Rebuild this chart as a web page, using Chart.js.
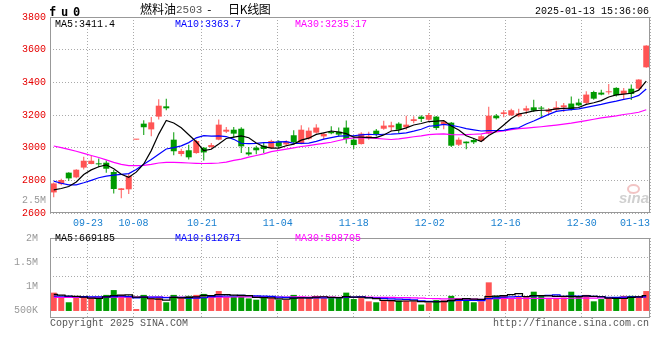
<!DOCTYPE html>
<html>
<head>
<meta charset="utf-8">
<title>燃料油2503 日K线图</title>
<script src="https://cdn.jsdelivr.net/npm/chart.js"></script>
<style>
  html, body { margin: 0; padding: 0; background: #fff; }
  #wrap { position: relative; width: 660px; height: 360px; overflow: hidden; background: #fff;
          font-family: "Liberation Mono", monospace; font-size: 10px; line-height: 10px; }
  #wrap canvas { position: absolute; left: 0; }
  .t { position: absolute; white-space: pre; }
  .cjk { font: 12px "Noto Sans CJK SC"; line-height: 12px; top: 3px; }
</style>
</head>
<body>
<div id="wrap">
  <canvas id="kline" width="660" height="228" style="top:0"></canvas>
  <canvas id="vol" width="660" height="132" style="top:228px"></canvas>

  <span class="t" style="left:49px;top:6px;font:bold 12px 'DejaVu Sans Mono';line-height:12px;letter-spacing:4.8px">fu0</span>
  <span class="t cjk" style="left:140px">燃料油</span>
  <span class="t" style="left:176px;top:5px;font:11px 'Liberation Mono';line-height:11px;color:#555">2503</span>
  <span class="t" style="left:206px;top:5px;font:11px 'Liberation Mono';line-height:11px">-</span>
  <span class="t cjk" style="left:228px;letter-spacing:-0.3px">日K线图</span>
  <span class="t" style="left:535px;top:7px">2025-01-13 15:36:06</span>

  <span class="t" style="left:55px;top:20px;color:#000">MA5:3411.4</span>
  <span class="t" style="left:175px;top:20px;color:#0000ff">MA10:3363.7</span>
  <span class="t" style="left:295px;top:20px;color:#ff00ff">MA30:3235.17</span>

  <span class="t" style="left:22px;top:196px;color:#999">2.5M</span>
  <span class="t" style="left:619px;top:190px;font:italic bold 15px 'Liberation Sans';line-height:15px;color:#d0d0d0">sina</span>
  <span class="t" style="left:627px;top:184px;width:9px;height:6px;border:2px solid #f2c4c4;border-radius:50%"></span>

  <span class="t" style="left:55px;top:234px;color:#000">MA5:669185</span>
  <span class="t" style="left:175px;top:234px;color:#0000ff">MA10:612671</span>
  <span class="t" style="left:295px;top:234px;color:#ff00ff">MA30:598705</span>

  <span class="t" style="left:50px;top:319px;color:#555">Copyright 2025 SINA.COM</span>
  <span class="t" style="left:493px;top:319px;color:#555">http://finance.sina.com.cn</span>
</div>

<script>
// trading days shown, 09-12 .. 01-13
var dates = ['09-12','09-13','09-18','09-19','09-20','09-23','09-24','09-25','09-26','09-27','09-30',
  '10-08','10-09','10-10','10-11','10-14','10-15','10-16','10-17','10-18','10-21','10-22','10-23','10-24','10-25',
  '10-28','10-29','10-30','10-31','11-01','11-04','11-05','11-06','11-07','11-08','11-11','11-12','11-13','11-14',
  '11-15','11-18','11-19','11-20','11-21','11-22','11-25','11-26','11-27','11-28','11-29','12-02','12-03','12-04',
  '12-05','12-06','12-09','12-10','12-11','12-12','12-13','12-16','12-17','12-18','12-19','12-20','12-23','12-24',
  '12-25','12-26','12-27','12-30','12-31','01-02','01-03','01-06','01-07','01-08','01-09','01-10','01-13'];
var tickDates = ['09-23','10-08','10-21','11-04','11-18','12-02','12-16','12-30','01-13'];

var open = [2726,2777,2847,2818,2878,2900,2903,2908,2851,2741,
  2745,3049,3147,3112,3190,3253,3049,2961,2984,2967,
  3000,3004,3049,3098,3110,3116,2971,3000,3012,2998,
  3037,3020,3076,3025,3055,3092,3069,3098,3098,3123,
  3049,3022,3066,3104,3116,3125,3147,3125,3163,3190,
  3171,3190,3143,3153,3018,3037,3047,3041,3086,3196,
  3206,3198,3192,3227,3247,3245,3219,3233,3247,3270,
  3276,3274,3341,3337,3339,3366,3329,3361,3361,3492];
var high = [2786,2810,2850,2868,2945,2949,2933,2922,2863,2753,
  2843,3052,3168,3188,3296,3300,3094,2994,3018,3049,
  3004,3029,3172,3127,3127,3125,3004,3012,3029,3049,
  3045,3045,3106,3137,3123,3143,3090,3131,3123,3167,
  3074,3094,3098,3114,3165,3159,3155,3196,3192,3198,
  3212,3194,3169,3157,3063,3038,3059,3080,3251,3206,
  3231,3239,3239,3257,3294,3255,3243,3284,3274,3314,
  3300,3345,3349,3355,3390,3370,3366,3386,3419,3627];
var low = [2696,2770,2798,2812,2867,2898,2880,2847,2720,2690,
  2716,3048,3078,3070,3172,3229,2953,2947,2927,2963,
  2922,2992,3045,3090,3059,2967,2951,2959,2967,2992,
  2996,3008,3020,3021,3049,3086,3049,3082,3069,3025,
  2992,3020,3049,3069,3110,3100,3086,3110,3149,3157,
  3165,3108,3112,3004,3010,2990,3022,3035,3080,3172,
  3186,3194,3186,3206,3219,3182,3206,3219,3219,3227,
  3253,3263,3294,3321,3325,3314,3294,3292,3355,3490];
var close = [2781,2802,2812,2865,2920,2920,2898,2871,2747,2751,
  2827,3052,3125,3155,3257,3241,2978,2980,2941,3041,
  2971,3016,3141,3110,3086,3008,2959,2984,2992,3041,
  3008,3037,3033,3110,3104,3123,3084,3088,3080,3053,
  3016,3086,3072,3082,3135,3137,3110,3141,3174,3176,
  3200,3120,3159,3012,3049,3027,3033,3070,3196,3180,
  3216,3229,3210,3241,3227,3239,3233,3247,3259,3233,
  3259,3325,3300,3325,3343,3321,3349,3329,3417,3625];

var ma5 = [2742,2750,2762,2790,2836,2864,2883,2895,2871,2837,
  2819,2850,2900,2982,3083,3166,3151,3122,3079,3036,
  2982,2990,3022,3056,3065,3072,3061,3029,3006,2997,
  2997,3012,3022,3046,3058,3081,3091,3102,3096,3086,
  3064,3065,3061,3062,3078,3102,3107,3121,3139,3148,
  3160,3162,3166,3133,3108,3073,3056,3038,3075,3101,
  3139,3178,3206,3215,3225,3229,3230,3237,3241,3242,
  3246,3265,3275,3288,3310,3323,3328,3333,3352,3408];
var ma10 = [2795,2782,2772,2772,2785,2800,2816,2826,2832,2837,
  2841,2866,2898,2927,2960,2992,3000,3011,3031,3060,
  3074,3071,3072,3068,3051,3027,3025,3026,3031,3031,
  3035,3037,3026,3026,3028,3039,3052,3062,3071,3072,
  3073,3078,3082,3079,3082,3083,3086,3091,3101,3113,
  3131,3135,3143,3136,3128,3117,3109,3102,3104,3105,
  3106,3117,3122,3145,3163,3184,3204,3222,3228,3233,
  3238,3247,3256,3265,3276,3285,3296,3304,3320,3359];
var ma30 = [3010,3000,2990,2978,2965,2952,2940,2925,2910,2898,
  2890,2890,2892,2898,2906,2910,2910,2908,2906,2904,
  2903,2904,2906,2912,2922,2930,2942,2952,2962,2976,
  2983,2991,2999,3007,3013,3020,3026,3033,3044,3054,
  3060,3062,3060,3057,3053,3050,3054,3060,3067,3072,
  3080,3083,3084,3080,3079,3080,3082,3085,3092,3097,
  3103,3110,3116,3120,3124,3128,3133,3138,3144,3150,
  3158,3166,3174,3182,3189,3195,3203,3209,3217,3232];

// volume, thousand lots
var volume = [795,613,377,613,613,558,558,697,906,697,
  613,84,697,558,613,377,697,613,655,697,
  739,613,864,613,613,697,544,488,558,558,
  488,488,697,613,558,655,558,558,558,795,
  516,558,418,377,446,446,446,446,418,278,
  362,474,474,655,544,516,377,418,1241,655,
  655,558,655,613,836,655,516,558,585,836,
  613,697,418,516,558,558,655,655,613,864];
var vma5 = [720,690,650,630,602,555,544,608,666,683,
  694,599,599,530,513,466,588,572,591,608,
  680,663,714,705,688,680,666,591,580,569,
  527,516,558,569,569,602,616,588,577,625,
  597,597,569,533,463,449,427,432,440,407,
  390,396,401,449,502,533,513,502,619,641,
  669,705,753,627,663,663,655,636,630,630,
  622,658,630,616,560,549,541,588,608,669];
var vma10 = [640,638,632,625,618,612,610,615,622,643,
  625,572,604,598,598,580,594,586,560,560,
  573,626,643,648,648,680,665,652,643,629,
  604,591,574,574,569,565,566,573,573,597,
  600,607,579,555,544,523,512,501,487,435,
  420,411,417,445,454,461,454,452,534,572,
  601,609,627,623,652,666,680,694,629,647,
  643,656,633,623,595,586,599,609,612,615];
var vma30 = [585,585,588,590,592,594,596,598,600,602,
  603,600,598,597,596,594,592,590,590,592,
  595,598,600,603,606,608,610,611,611,611,
  600,596,607,607,605,608,608,604,592,595,
  592,608,599,593,587,589,581,575,567,553,
  541,536,523,525,522,516,511,508,531,534,
  540,542,541,541,550,550,549,549,550,551,
  554,559,559,564,567,571,578,585,591,611];

var priceTicks = [2600, 2800, 3000, 3200, 3400, 3600, 3800];
var volTicks = [500, 1000, 1500, 2000];

var UP = '#ff5454', DOWN = '#009a00', FONT = 'Liberation Mono', GRID = '#aaaaaa';

function pts(arr) {
  return arr.map(function(v, i) { return {x: i, y: v}; });
}
var dirColor = close.map(function(c, i) { return c >= open[i] ? UP : DOWN; });
var gridIdx = [0].concat(tickDates.map(function(d) { return dates.indexOf(d); }));

// grey box round the plot
var frame = {
  id: 'frame',
  afterDraw: function(chart) {
    var a = chart.chartArea, c = chart.ctx;
    c.save();
    c.strokeStyle = '#999';
    c.lineWidth = 1;
    c.strokeRect(a.left + 0.5, a.top + 0.5, a.right - a.left - 1, a.bottom - a.top - 1);
    c.restore();
  }
};

function maLine(arr, color, axisY, stepped) {
  return {
    type: 'line', data: pts(arr), borderColor: color, borderWidth: 1.2,
    pointRadius: 0, tension: 0, stepped: stepped || false,
    xAxisID: 'x', yAxisID: axisY, order: 0
  };
}

// candles sit in 80 equal slots
var slotAxis = { type: 'linear', display: false, offset: false, min: -0.5, max: dates.length - 0.5 };

function gridAxis(labels) {
  return {
    type: 'linear', position: 'bottom', offset: false, min: 0, max: dates.length - 1,
    afterBuildTicks: function(s) { s.ticks = gridIdx.map(function(v) { return {value: v}; }); },
    grid: { color: GRID, lineWidth: 1, drawTicks: false, offset: false },
    border: { display: false, dash: [1, 2] },
    ticks: {
      display: labels, autoSkip: false, maxRotation: 0, align: 'inner', padding: 4,
      color: '#1a80d0', font: { family: FONT, size: 10 },
      callback: function(v) { return v === 0 ? '' : dates[v]; }
    },
    afterFit: function(s) { s.height = labels ? 15 : 0; s.paddingLeft = 0; s.paddingRight = 0; }
  };
}

var base = {
  responsive: false, animation: false, devicePixelRatio: 1,
  plugins: { legend: { display: false }, tooltip: { enabled: false } }
};

new Chart(document.getElementById('kline'), {
  type: 'bar',
  data: {
    datasets: [
      maLine(ma5, '#000000', 'y'),
      maLine(ma10, '#0000ff', 'y'),
      maLine(ma30, '#ff00ff', 'y'),
      { label: 'body', data: open.map(function(o, i) { return {x: i, y: [o, close[i]]}; }),
        backgroundColor: dirColor, barThickness: 6, minBarLength: 1, inflateAmount: 0,
        grouped: false, xAxisID: 'x', yAxisID: 'y', order: 1 },
      { label: 'wick', data: low.map(function(l, i) { return {x: i, y: [l, high[i]]}; }),
        backgroundColor: dirColor, barThickness: 1, inflateAmount: 0,
        grouped: false, xAxisID: 'x', yAxisID: 'y', order: 2 }
    ]
  },
  options: Object.assign({}, base, {
    layout: { padding: { top: 17, right: 10, left: 0, bottom: 0 } },
    scales: {
      x: slotAxis,
      xg: gridAxis(true),
      y: {
        type: 'linear', position: 'left', min: 2600, max: 3800,
        afterBuildTicks: function(s) { s.ticks = priceTicks.map(function(v) { return {value: v}; }); },
        grid: { color: GRID, drawTicks: false },
        border: { display: false, dash: [1, 2] },
        ticks: { color: '#e60000', padding: 4, font: { family: FONT, size: 10 },
          callback: function(v) { return String(v); } },
        afterFit: function(s) { s.width = 50; }
      }
    }
  }),
  plugins: [frame]
});

new Chart(document.getElementById('vol'), {
  type: 'bar',
  data: {
    datasets: [
      maLine(vma5, '#000000', 'y', 'middle'),
      maLine(vma10, '#0000ff', 'y', 'middle'),
      maLine(vma30, '#ff00ff', 'y', 'middle'),
      { label: 'volume', data: pts(volume), backgroundColor: dirColor, barThickness: 6,
        inflateAmount: 0, grouped: false, xAxisID: 'x', yAxisID: 'y', order: 1 }
    ]
  },
  options: Object.assign({}, base, {
    layout: { padding: { top: 7, right: 10, left: 0, bottom: 42 } },
    scales: {
      x: slotAxis,
      xg: gridAxis(false),
      y: { type: 'linear', display: false, position: 'left', min: -305, max: 3164 },
      yl: {
        type: 'linear', position: 'left', min: 350, max: 2000,
        afterBuildTicks: function(s) { s.ticks = volTicks.map(function(v) { return {value: v}; }); },
        grid: { display: false },
        border: { display: false },
        ticks: { color: '#999', padding: 4, font: { family: FONT, size: 10 },
          callback: function(v) { return v >= 1000 ? (v / 1000) + 'M' : v + 'K'; } },
        afterFit: function(s) { s.width = 50; }
      },
      yg: {
        type: 'linear', position: 'left', min: -1.165, max: 3,
        afterBuildTicks: function(s) { s.ticks = [0, 1, 2].map(function(v) { return {value: v}; }); },
        grid: { color: GRID, drawTicks: false },
        border: { display: false, dash: [1, 2] },
        ticks: { display: false },
        afterFit: function(s) { s.width = 0; }
      }
    }
  }),
  plugins: [frame]
});
</script>
</body>
</html>
